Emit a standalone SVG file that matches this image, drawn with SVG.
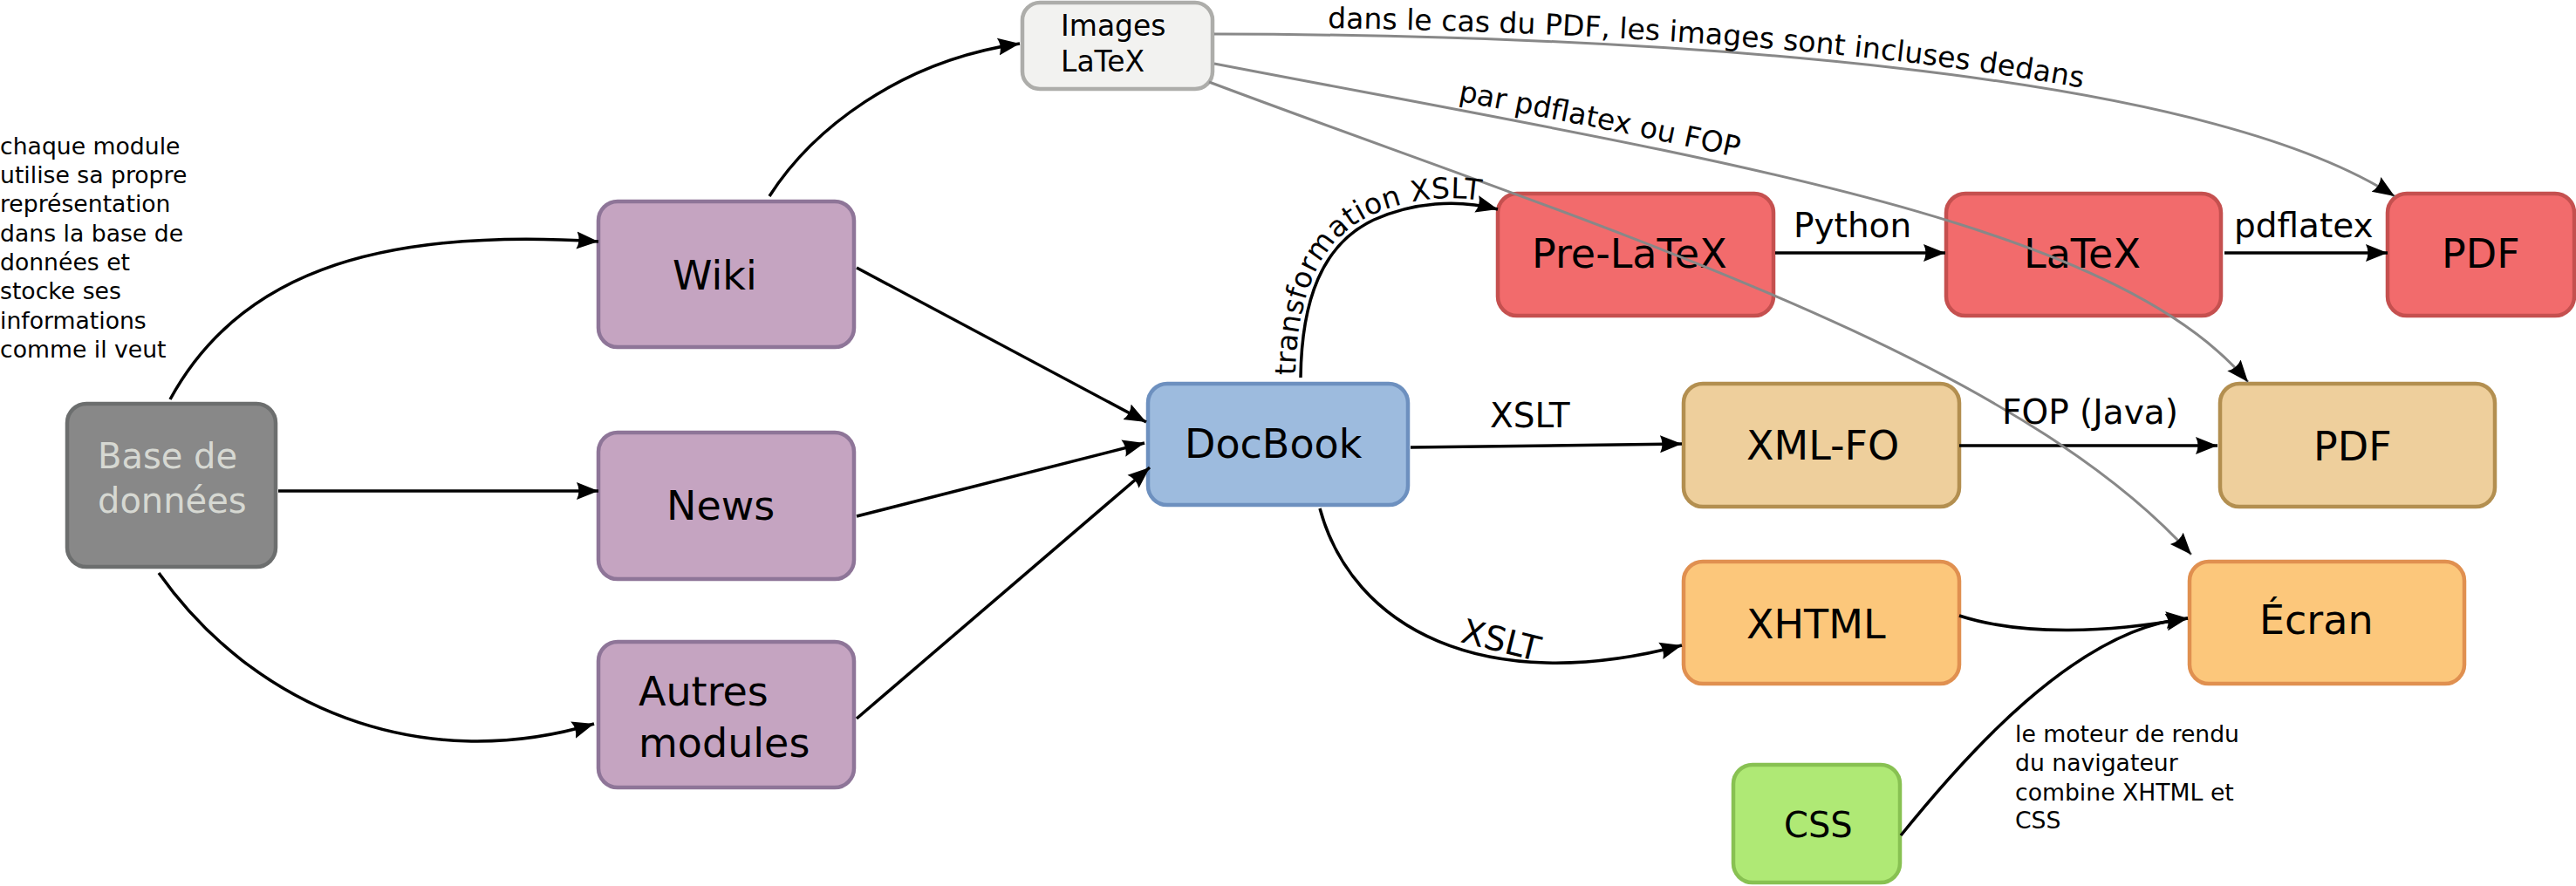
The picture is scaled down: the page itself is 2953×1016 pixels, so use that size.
<svg xmlns="http://www.w3.org/2000/svg" width="2953" height="1016" viewBox="0 0 2953 1016">
<style>
text{font-family:"DejaVu Sans","Liberation Sans",sans-serif;fill:#000}
.node rect{stroke-width:4.5}
.n{font-size:46px}
.lbl{font-size:39px}
.ann{font-size:26.67px}
.pl{font-size:33px}
.purple rect{fill:#c5a4c1;stroke:#8e7598}
.blue rect{fill:#9dbbde;stroke:#6d90bf}
.red rect{fill:#f26b6c;stroke:#c5504f}
.tan rect{fill:#eecf9c;stroke:#b38f50}
.orange rect{fill:#fcc77b;stroke:#e09050}
.green rect{fill:#afe975;stroke:#88c152}
.grey rect{fill:#888888;stroke:#6c6e6e}
.light rect{fill:#f2f2f0;stroke:#adadaa}
.c{fill:none;stroke:#000;stroke-width:3.5;marker-end:url(#arr)}
.g{fill:none;stroke:#888;stroke-width:3;marker-end:url(#arr)}
</style>
<defs>
<marker id="arr" markerUnits="userSpaceOnUse" markerWidth="28" markerHeight="24" viewBox="0 0 28 24" refX="25" refY="12" orient="auto">
<path d="M0,2 L25,12 L0,22 Q5,12 0,2 z" fill="#000"/>
</marker>
</defs>
<rect width="2953" height="1016" fill="#fff"/>

<g id="annotation-modules" class="ann">
<text x="0" y="177">chaque module</text>
<text x="0" y="210">utilise sa propre</text>
<text x="0" y="243">représentation</text>
<text x="0" y="277">dans la base de</text>
<text x="0" y="310">données et</text>
<text x="0" y="343">stocke ses</text>
<text x="0" y="377">informations</text>
<text x="0" y="410">comme il veut</text>
</g>
<g id="annotation-navigateur" class="ann">
<text x="2310" y="851">le moteur de rendu</text>
<text x="2310" y="884">du navigateur</text>
<text x="2310" y="918">combine XHTML et</text>
<text x="2310" y="950">CSS</text>
</g>

<g id="node-db" class="node grey">
<rect x="77" y="463" width="239" height="187" rx="22"/>
<text x="112" y="537" style="font-size:40px;fill:#d6d8d2">Base de</text>
<text x="112" y="588" style="font-size:40px;fill:#d6d8d2">données</text>
</g>
<g id="node-wiki" class="node purple">
<rect x="686" y="231" width="293" height="167" rx="22"/>
<text class="n" x="771" y="332">Wiki</text>
</g>
<g id="node-news" class="node purple">
<rect x="686" y="496" width="293" height="168" rx="22"/>
<text class="n" x="764" y="596">News</text>
</g>
<g id="node-autres" class="node purple">
<rect x="686" y="736" width="293" height="167" rx="22"/>
<text class="n" x="732" y="809">Autres</text>
<text class="n" x="732" y="868">modules</text>
</g>
<g id="node-images" class="node light">
<rect x="1172" y="3" width="218" height="99" rx="20"/>
<text class="pl" x="1216" y="41">Images</text>
<text class="pl" x="1216" y="82">LaTeX</text>
</g>
<g id="node-docbook" class="node blue">
<rect x="1316" y="440" width="298" height="139" rx="22"/>
<text class="n" x="1358" y="525">DocBook</text>
</g>
<g id="node-prelatex" class="node red">
<rect x="1717" y="222" width="316" height="140" rx="22"/>
<text class="n" x="1756" y="307">Pre-LaTeX</text>
</g>
<g id="node-latex" class="node red">
<rect x="2231" y="222" width="315" height="140" rx="22"/>
<text class="n" x="2320" y="307">LaTeX</text>
</g>
<g id="node-pdf1" class="node red">
<rect x="2737" y="222" width="214" height="140" rx="22"/>
<text class="n" x="2799" y="307">PDF</text>
</g>
<g id="node-xmlfo" class="node tan">
<rect x="1930" y="440" width="316" height="141" rx="22"/>
<text class="n" x="2002" y="527">XML-FO</text>
</g>
<g id="node-pdf2" class="node tan">
<rect x="2545" y="440" width="315" height="141" rx="22"/>
<text class="n" x="2652" y="528">PDF</text>
</g>
<g id="node-xhtml" class="node orange">
<rect x="1930" y="644" width="316" height="140" rx="22"/>
<text class="n" x="2002" y="732">XHTML</text>
</g>
<g id="node-ecran" class="node orange">
<rect x="2510" y="644" width="315" height="140" rx="22"/>
<text class="n" x="2590" y="727">Écran</text>
</g>
<g id="node-css" class="node green">
<rect x="1987" y="877" width="191" height="135" rx="22"/>
<text x="2045" y="960" style="font-size:40px">CSS</text>
</g>

<g id="connectors">
<path class="c" d="M195,458 C270,320 420,260 686,277"/>
<path class="c" d="M319,563 L686,563"/>
<path class="c" d="M182,657 C290,810 480,890 681,830"/>
<path class="c" d="M882,225 C930,150 1030,70 1169,50"/>
<path class="c" d="M982,307 L1314,484"/>
<path class="c" d="M982,592 L1312,508"/>
<path class="c" d="M982,824 L1318,536"/>
<path id="p-trans" class="c" d="M1491,433 C1492,345 1515,280 1575,252 C1620,232 1670,228 1717,240"/>
<path class="c" d="M1617,513 L1928,509"/>
<path class="c" d="M1513,583 C1550,720 1700,800 1928,740"/>
<path class="c" d="M2035,290 L2230,290"/>
<path class="c" d="M2550,290 L2737,290"/>
<path class="c" d="M2246,511 L2542,511"/>
<path class="c" d="M2246,706 C2320,730 2420,725 2508,709"/>
<path class="c" d="M2179,958 C2250,870 2380,720 2508,709"/>
<path id="p-g1" class="g" d="M1392,39 C1900,40 2520,80 2745,225"/>
<path id="p-g2" class="g" d="M1392,73 C1950,180 2420,250 2577,438"/>
<path class="g" d="M1386,94 C1800,250 2300,400 2512,636"/>
<text class="pl" dy="-6"><textPath href="#p-trans" startOffset="2">transformation XSLT</textPath></text>
<text class="pl" dy="-8"><textPath href="#p-g1" startOffset="130">dans le cas du PDF, les images sont incluses dedans</textPath></text>
<text class="pl" dy="-10"><textPath href="#p-g2" startOffset="282">par pdflatex ou FOP</textPath></text>
<text class="lbl" x="1708" y="490">XSLT</text>
<text class="lbl" x="1673" y="736" transform="rotate(14 1673 736)">XSLT</text>
<text class="lbl" x="2056" y="272">Python</text>
<text class="lbl" x="2561" y="272">pdflatex</text>
<text class="lbl" x="2295" y="486">FOP (Java)</text>
</g>
</svg>
